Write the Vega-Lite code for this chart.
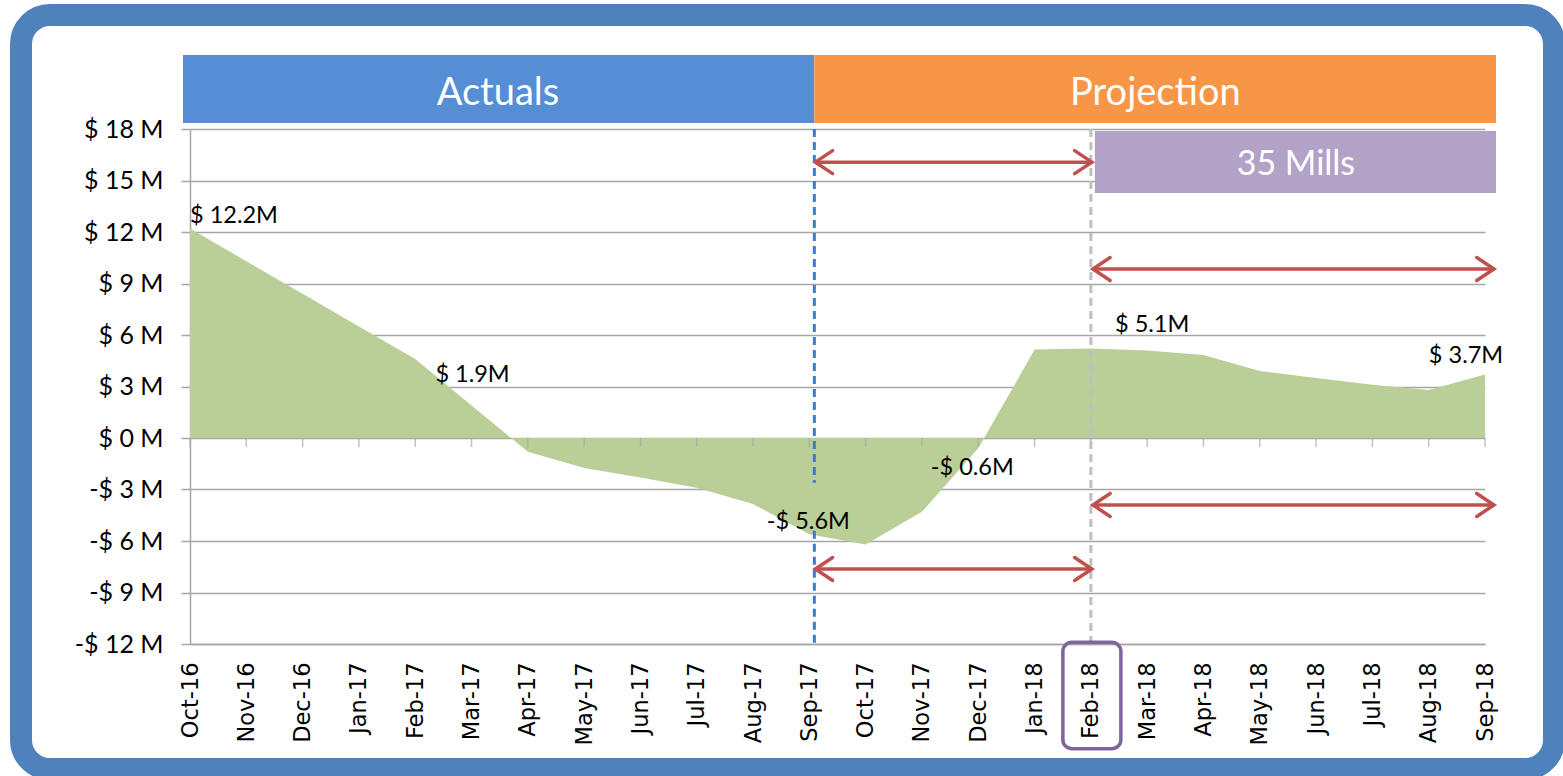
{
  "$schema": "https://vega.github.io/schema/vega-lite/v6.json",
  "width": 1533,
  "height": 754,
  "autosize": {"type": "none"},
  "padding": {"left": 21, "top": 15, "right": 9, "bottom": 7},
  "background": "white",
  "view": {"fill": "white", "stroke": "#4F81BD", "strokeWidth": 22, "cornerRadius": 29},
  "config": {"font": "Lato"},
  "datasets": {
    "series": [
      {"month": "Oct-16", "value": 12.2},
      {"month": "Nov-16", "value": 10.3},
      {"month": "Dec-16", "value": 8.4},
      {"month": "Jan-17", "value": 6.5},
      {"month": "Feb-17", "value": 4.6},
      {"month": "Mar-17", "value": 1.9},
      {"month": "Apr-17", "value": -0.8},
      {"month": "May-17", "value": -1.75},
      {"month": "Jun-17", "value": -2.3},
      {"month": "Jul-17", "value": -2.9},
      {"month": "Aug-17", "value": -3.85},
      {"month": "Sep-17", "value": -5.6},
      {"month": "Oct-17", "value": -6.2},
      {"month": "Nov-17", "value": -4.3},
      {"month": "Dec-17", "value": -0.6},
      {"month": "Jan-18", "value": 5.15},
      {"month": "Feb-18", "value": 5.22},
      {"month": "Mar-18", "value": 5.1},
      {"month": "Apr-18", "value": 4.83},
      {"month": "May-18", "value": 3.9},
      {"month": "Jun-18", "value": 3.5},
      {"month": "Jul-18", "value": 3.1},
      {"month": "Aug-18", "value": 2.8},
      {"month": "Sep-18", "value": 3.7}
    ],
    "callouts": [
      {"month": "Oct-16", "value": 12.2, "text": "$ 12.2M"},
      {"month": "Mar-17", "value": 1.9, "text": "$ 1.9M"},
      {"month": "Sep-17", "value": -5.6, "text": "-$ 5.6M"},
      {"month": "Dec-17", "value": -0.6, "text": "-$ 0.6M"},
      {"month": "Mar-18", "value": 5.1, "text": "$ 5.1M"},
      {"month": "Sep-18", "value": 3.7, "text": "$ 3.7M"}
    ],
    "banners": [
      {"name": "Actuals", "start": "Oct-16", "end": "Sep-17", "top": 22.31, "bottom": 18.35},
      {"name": "Projection", "start": "Sep-17", "end": "Sep-18", "top": 22.31, "bottom": 18.35},
      {"name": "35 Mills", "start": "Feb-18", "end": "Sep-18", "top": 17.88, "bottom": 14.27}
    ],
    "markers": [
      {"kind": "actuals end", "month": "Sep-17", "from": 18, "to": -2.6},
      {"kind": "actuals end", "month": "Sep-17", "from": -5.4, "to": -12},
      {"kind": "cutoff", "month": "Feb-18", "from": 18, "to": -12}
    ],
    "highlight": [
      {"month": "Feb-18", "top": -11.9, "bottom": -18.1}
    ],
    "arrows": [
      {"from": "Sep-17", "to": "Feb-18", "level": 16.07},
      {"from": "Feb-18", "to": "Sep-18", "level": 9.84},
      {"from": "Feb-18", "to": "Sep-18", "level": -3.9},
      {"from": "Sep-17", "to": "Feb-18", "level": -7.63}
    ]
  },
  "layer": [
    {
      "data": {"name": "series"},
      "mark": {"type": "area", "color": "#BACF98", "opacity": 1},
      "encoding": {
        "x": {
          "field": "month", "type": "ordinal", "title": null,
          "scale": {"type": "point", "domain": ["Oct-16","Nov-16","Dec-16","Jan-17","Feb-17","Mar-17","Apr-17","May-17","Jun-17","Jul-17","Aug-17","Sep-17","Oct-17","Nov-17","Dec-17","Jan-18","Feb-18","Mar-18","Apr-18","May-18","Jun-18","Jul-18","Aug-18","Sep-18"], "range": [169, 1464], "padding": 0},
          "axis": {"orient": "bottom", "offset": -125, "labelAngle": -90, "labelFont": "DejaVu Sans", "labelFontSize": 22.5, "labelColor": "#000000", "labelPadding": 18, "ticks": false, "domainColor": "#A6A6A6", "domainWidth": 1.5, "grid": false, "labelOverlap": false}
        },
        "y": {
          "field": "value", "type": "quantitative", "title": null,
          "scale": {"domain": [-12, 18], "range": [629, 114], "nice": false, "zero": false},
          "axis": {"orient": "left", "offset": -169, "values": [-12, -9, -6, -3, 0, 3, 6, 9, 12, 15, 18], "labelExpr": "datum.value < 0 ? '-$ ' + abs(datum.value) + ' M' : '$ ' + datum.value + ' M'", "labelFont": "Lato", "labelFontSize": 25, "labelColor": "#000000", "labelPadding": 18, "tickSize": 9, "tickColor": "#A6A6A6", "tickWidth": 1.5, "domainColor": "#A6A6A6", "domainWidth": 1.5, "grid": true, "gridColor": "#A6A6A6", "gridWidth": 1.5}
        },
        "y2": {"datum": 0}
      }
    },
    {
      "data": {"name": "series"},
      "mark": {"type": "tick", "orient": "vertical", "size": 9, "thickness": 1.5, "color": "#A6A6A6", "yOffset": 4.5},
      "encoding": {
        "x": {"field": "month", "type": "ordinal", "title": null},
        "y": {"datum": 0, "type": "quantitative", "title": null}
      }
    },
    {
      "data": {"name": "banners"},
      "transform": [{"filter": "datum.name === 'Actuals'"}],
      "layer": [
        {
          "mark": {"type": "rect", "color": "#558ED5", "xOffset": -7, "x2Offset": 5},
          "encoding": {
            "x": {"field": "start", "type": "ordinal", "title": null},
            "x2": {"field": "end"},
            "y": {"field": "top", "type": "quantitative", "title": null},
            "y2": {"field": "bottom"}
          }
        },
        {
          "mark": {"type": "text", "color": "white", "font": "Lato", "fontSize": 38, "align": "center", "baseline": "middle", "dx": 308, "dy": 39},
          "encoding": {
            "x": {"field": "start", "type": "ordinal", "title": null},
            "y": {"field": "top", "type": "quantitative", "title": null},
            "text": {"field": "name"}
          }
        }
      ]
    },
    {
      "data": {"name": "banners"},
      "transform": [{"filter": "datum.name === 'Projection'"}],
      "layer": [
        {
          "mark": {"type": "rect", "color": "#F79646", "xOffset": 5, "x2Offset": 11},
          "encoding": {
            "x": {"field": "start", "type": "ordinal", "title": null},
            "x2": {"field": "end"},
            "y": {"field": "top", "type": "quantitative", "title": null},
            "y2": {"field": "bottom"}
          }
        },
        {
          "mark": {"type": "text", "color": "white", "font": "Lato", "fontSize": 38, "align": "center", "baseline": "middle", "dx": 346, "dy": 39},
          "encoding": {
            "x": {"field": "start", "type": "ordinal", "title": null},
            "y": {"field": "top", "type": "quantitative", "title": null},
            "text": {"field": "name"}
          }
        }
      ]
    },
    {
      "data": {"name": "banners"},
      "transform": [{"filter": "datum.name === '35 Mills'"}],
      "layer": [
        {
          "mark": {"type": "rect", "color": "#B3A2C7", "xOffset": 4, "x2Offset": 11},
          "encoding": {
            "x": {"field": "start", "type": "ordinal", "title": null},
            "x2": {"field": "end"},
            "y": {"field": "top", "type": "quantitative", "title": null},
            "y2": {"field": "bottom"}
          }
        },
        {
          "mark": {"type": "text", "color": "white", "font": "Lato", "fontSize": 34, "align": "center", "baseline": "middle", "dx": 205, "dy": 34},
          "encoding": {
            "x": {"field": "start", "type": "ordinal", "title": null},
            "y": {"field": "top", "type": "quantitative", "title": null},
            "text": {"field": "name"}
          }
        }
      ]
    },
    {
      "data": {"name": "markers"},
      "transform": [{"filter": "datum.kind === 'cutoff'"}],
      "mark": {"type": "rule", "color": "#BFBFBF", "strokeWidth": 3, "strokeDash": [8, 5]},
      "encoding": {
        "x": {"field": "month", "type": "ordinal", "title": null},
        "y": {"field": "from", "type": "quantitative", "title": null},
        "y2": {"field": "to"}
      }
    },
    {
      "data": {"name": "markers"},
      "transform": [{"filter": "datum.kind === 'actuals end'"}],
      "mark": {"type": "rule", "color": "#3F7BC6", "strokeWidth": 3, "strokeDash": [8, 5], "xOffset": 5},
      "encoding": {
        "x": {"field": "month", "type": "ordinal", "title": null},
        "y": {"field": "from", "type": "quantitative", "title": null},
        "y2": {"field": "to"}
      }
    },
    {
      "data": {"name": "highlight"},
      "mark": {"type": "rect", "filled": false, "fill": null, "stroke": "#8064A2", "strokeWidth": 3.5, "cornerRadius": 9, "xOffset": -28, "x2Offset": 30},
      "encoding": {
        "x": {"field": "month", "type": "ordinal", "title": null},
        "x2": {"field": "month"},
        "y": {"field": "top", "type": "quantitative", "title": null},
        "y2": {"field": "bottom"}
      }
    },
    {
      "data": {"name": "arrows"},
      "transform": [{"filter": "datum.from === 'Sep-17'"}],
      "layer": [
        {
          "mark": {"type": "rule", "color": "#C0504D", "strokeWidth": 3.5, "xOffset": 6, "x2Offset": 1},
          "encoding": {
            "x": {"field": "from", "type": "ordinal", "title": null},
            "x2": {"field": "to"},
            "y": {"field": "level", "type": "quantitative", "title": null}
          }
        },
        {
          "mark": {"type": "point", "shape": "M1.5,-1L0,0L1.5,1", "size": 529, "filled": false, "stroke": "#C0504D", "strokeWidth": 3.5, "opacity": 1, "xOffset": 6, "strokeCap": "round", "strokeJoin": "miter"},
          "encoding": {
            "x": {"field": "from", "type": "ordinal", "title": null},
            "y": {"field": "level", "type": "quantitative", "title": null}
          }
        },
        {
          "mark": {"type": "point", "shape": "M-1.5,-1L0,0L-1.5,1", "size": 529, "filled": false, "stroke": "#C0504D", "strokeWidth": 3.5, "opacity": 1, "xOffset": 1, "strokeCap": "round", "strokeJoin": "miter"},
          "encoding": {
            "x": {"field": "to", "type": "ordinal", "title": null},
            "y": {"field": "level", "type": "quantitative", "title": null}
          }
        }
      ]
    },
    {
      "data": {"name": "arrows"},
      "transform": [{"filter": "datum.from === 'Feb-18'"}],
      "layer": [
        {
          "mark": {"type": "rule", "color": "#C0504D", "strokeWidth": 3.5, "xOffset": 2, "x2Offset": 9},
          "encoding": {
            "x": {"field": "from", "type": "ordinal", "title": null},
            "x2": {"field": "to"},
            "y": {"field": "level", "type": "quantitative", "title": null}
          }
        },
        {
          "mark": {"type": "point", "shape": "M1.5,-1L0,0L1.5,1", "size": 529, "filled": false, "stroke": "#C0504D", "strokeWidth": 3.5, "opacity": 1, "xOffset": 2, "strokeCap": "round", "strokeJoin": "miter"},
          "encoding": {
            "x": {"field": "from", "type": "ordinal", "title": null},
            "y": {"field": "level", "type": "quantitative", "title": null}
          }
        },
        {
          "mark": {"type": "point", "shape": "M-1.5,-1L0,0L-1.5,1", "size": 529, "filled": false, "stroke": "#C0504D", "strokeWidth": 3.5, "opacity": 1, "xOffset": 9, "strokeCap": "round", "strokeJoin": "miter"},
          "encoding": {
            "x": {"field": "to", "type": "ordinal", "title": null},
            "y": {"field": "level", "type": "quantitative", "title": null}
          }
        }
      ]
    },
    {
      "data": {"name": "callouts"},
      "transform": [{"filter": "datum.month === 'Oct-16'"}],
      "mark": {"type": "text", "font": "Lato", "fontSize": 23.5, "color": "#000000", "align": "left", "baseline": "middle", "dx": 0, "dy": -13},
      "encoding": {
        "x": {"field": "month", "type": "ordinal", "title": null},
        "y": {"field": "value", "type": "quantitative", "title": null},
        "text": {"field": "text"}
      }
    },
    {
      "data": {"name": "callouts"},
      "transform": [{"filter": "datum.month === 'Mar-17'"}],
      "mark": {"type": "text", "font": "Lato", "fontSize": 23.5, "color": "#000000", "align": "center", "baseline": "middle", "dx": 1, "dy": -30},
      "encoding": {
        "x": {"field": "month", "type": "ordinal", "title": null},
        "y": {"field": "value", "type": "quantitative", "title": null},
        "text": {"field": "text"}
      }
    },
    {
      "data": {"name": "callouts"},
      "transform": [{"filter": "datum.month === 'Sep-17'"}],
      "mark": {"type": "text", "font": "Lato", "fontSize": 23.5, "color": "#000000", "align": "center", "baseline": "middle", "dx": -1, "dy": -12},
      "encoding": {
        "x": {"field": "month", "type": "ordinal", "title": null},
        "y": {"field": "value", "type": "quantitative", "title": null},
        "text": {"field": "text"}
      }
    },
    {
      "data": {"name": "callouts"},
      "transform": [{"filter": "datum.month === 'Dec-17'"}],
      "mark": {"type": "text", "font": "Lato", "fontSize": 23.5, "color": "#000000", "align": "center", "baseline": "middle", "dx": -6, "dy": 20},
      "encoding": {
        "x": {"field": "month", "type": "ordinal", "title": null},
        "y": {"field": "value", "type": "quantitative", "title": null},
        "text": {"field": "text"}
      }
    },
    {
      "data": {"name": "callouts"},
      "transform": [{"filter": "datum.month === 'Mar-18'"}],
      "mark": {"type": "text", "font": "Lato", "fontSize": 23.5, "color": "#000000", "align": "center", "baseline": "middle", "dx": 5, "dy": -25},
      "encoding": {
        "x": {"field": "month", "type": "ordinal", "title": null},
        "y": {"field": "value", "type": "quantitative", "title": null},
        "text": {"field": "text"}
      }
    },
    {
      "data": {"name": "callouts"},
      "transform": [{"filter": "datum.month === 'Sep-18'"}],
      "mark": {"type": "text", "font": "Lato", "fontSize": 23.5, "color": "#000000", "align": "center", "baseline": "middle", "dx": -19, "dy": -18},
      "encoding": {
        "x": {"field": "month", "type": "ordinal", "title": null},
        "y": {"field": "value", "type": "quantitative", "title": null},
        "text": {"field": "text"}
      }
    }
  ]
}
